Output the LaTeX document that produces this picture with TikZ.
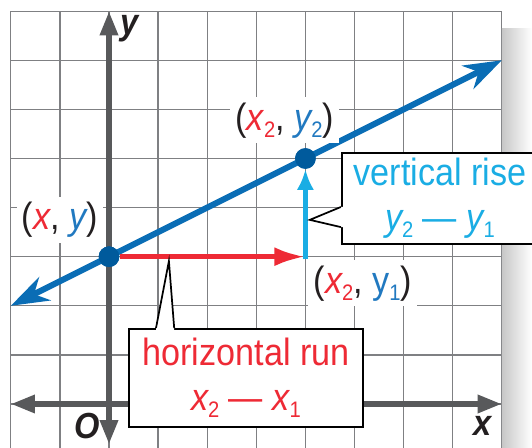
\documentclass[tikz,border=0pt]{standalone}
\usepackage{fontspec}
\setmainfont{Liberation Sans}[FakeStretch=0.9]
\usepackage{xcolor}
\usetikzlibrary{arrows.meta, calc, positioning}

\definecolor{runred}{HTML}{EE2A35}
\definecolor{lineblue}{HTML}{0A6DB5}
\definecolor{dotblue}{HTML}{005A9C}
\definecolor{risecyan}{HTML}{1AADE4}
\definecolor{yblue}{HTML}{2179C0}
\definecolor{axisgray}{HTML}{58595B}
\definecolor{gridgray}{HTML}{7F8083}
\definecolor{parenink}{HTML}{231F20}

\newcommand{\lowsub}[1]{\raisebox{-0.35ex}{\fontsize{13}{13}\selectfont\upshape #1}}

\begin{document}
\begin{tikzpicture}[
    txt/.style={font=\fontsize{22}{26}\selectfont, inner sep=3pt},
    coordlabel/.style={txt, fill=white, text=parenink},
    axislabel/.style={font=\fontsize{21}{24}\selectfont\bfseries\itshape, text=parenink, inner sep=1pt},
    pt/.style={circle, fill=dotblue, minimum size=0.42cm, inner sep=0pt},
    callbox/.style={txt, draw=black, line width=1pt, fill=white, align=center}
]
\useasboundingbox (-2.22,-0.896) rectangle (8.615,8.228);

% Grid
\draw[gridgray, line width=0.8pt] (-2,-1) grid (8,8);
\shade[left color=black!22, right color=white] (8,7.65) rectangle (8.615,-0.9);

% Axes
\coordinate (xmin) at (-2,0);
\coordinate (xmax) at (8,0);
\coordinate (ymin) at (0,-0.82);
\coordinate (ymax) at (0,8);
\draw[axisgray, line width=3.2pt, {Triangle[length=14pt,width=10pt]}-{Triangle[length=14pt,width=10pt]}] (xmin) -- (xmax);
\draw[axisgray, line width=3.2pt, {Triangle[length=14pt,width=10pt]}-{Triangle[length=14pt,width=10pt]}] (ymin) -- (ymax);
\node[axislabel] (ylab) at (0.42,7.64) {y};
\node[axislabel] (xlab) at (7.6,-0.44) {x};
\node[axislabel] (olab) at (-0.45,-0.44) {O};

% Points
\node[pt] (p1) at (0,3) {};
\node[pt] (p2) at (4,5) {};
\coordinate (p3) at (4,3);

% Line through the points
\coordinate (lineA) at (-2,2);
\coordinate (lineB) at (8,7);
\draw[lineblue, line width=3.5pt, {Stealth[length=22pt,width=15pt,inset=7pt]}-{Stealth[length=22pt,width=15pt,inset=7pt]}] (lineA) -- (lineB);
\node[pt] at (p1) {};
\node[pt] at (p2) {};

% Run and rise
\draw[runred, line width=3.2pt, -{Latex[length=18pt,width=11pt]}] (p1) -- (p3);
\draw[risecyan, line width=3.2pt, -{Latex[length=12pt,width=10pt]}] ([yshift=-1.6pt]p3) -- (p2);

% Labels
\node[coordlabel] (l1) at (-1.0,3.75) {(\textcolor{runred}{\itshape x}, \textcolor{yblue}{\itshape y})};
\node[coordlabel] (l2) at (3.58,5.78) {(\textcolor{runred}{\itshape x\lowsub{2}}, \textcolor{yblue}{\itshape y\lowsub{2}})};
\node[coordlabel] (l3) at (5.17,2.46) {(\textcolor{runred}{\itshape x\lowsub{2}}, \textcolor{yblue}{y\lowsub{1}})};

% Callouts
\node[callbox, text=risecyan, minimum width=4.0cm, minimum height=1.85cm] (rise) at (6.74,4.19)
    {vertical rise\\{\itshape y}\lowsub{2} — {\itshape y}\lowsub{1}};
\coordinate (risetip) at (4.09,3.75);
\coordinate (riseA) at ($(rise.north west)+(0,-1.12)$);
\coordinate (riseB) at ($(rise.north west)+(0,-1.53)$);
\fill[white] ($(riseA)+(0.07,0)$) -- (riseA) -- (risetip) -- (riseB) -- ($(riseB)+(0.07,0)$) -- cycle;
\draw[line width=1pt] (riseA) -- (risetip) -- (riseB);

\node[callbox, text=runred, minimum width=4.77cm, minimum height=2.0cm] (run) at (2.79,0.53)
    {horizontal run\\{\itshape x}\lowsub{2} — {\itshape x}\lowsub{1}};
\coordinate (runtip) at (1.22,2.91);
\coordinate (runA) at ($(run.north west)+(0.57,0)$);
\coordinate (runB) at ($(run.north west)+(0.94,0)$);
\fill[white] ($(runA)+(0,-0.07)$) -- (runA) -- (runtip) -- (runB) -- ($(runB)+(0,-0.07)$) -- cycle;
\draw[line width=1pt] (runA) -- (runtip) -- (runB);
\end{tikzpicture}
\end{document}
